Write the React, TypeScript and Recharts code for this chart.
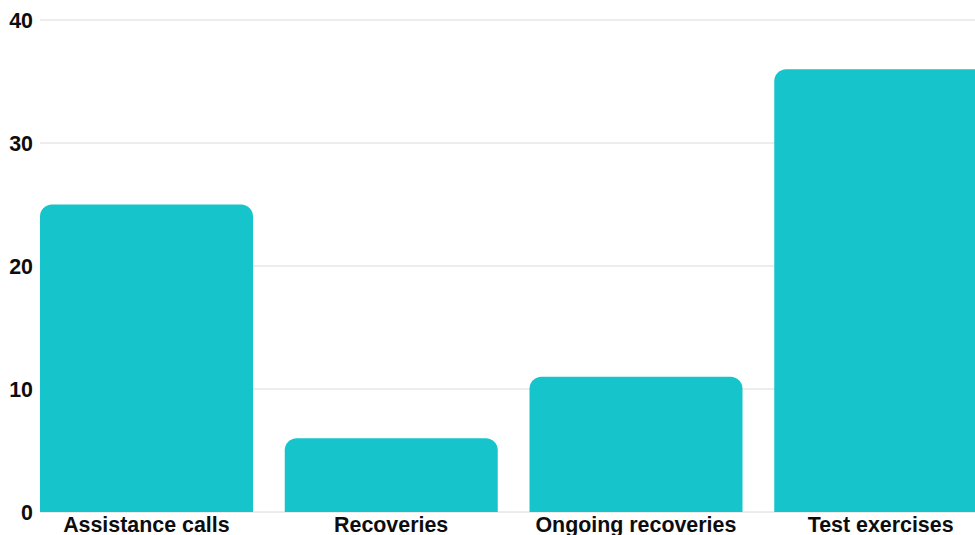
import React from "react";
import { BarChart, Bar, XAxis, YAxis, CartesianGrid } from "recharts";

const categories = ["Assistance calls", "Recoveries", "Ongoing recoveries", "Test exercises"];
const values = [25, 6, 11, 36];
const yTicks = [0, 10, 20, 30, 40];

const data = categories.map((name, i) => ({ name, value: values[i] }));

const tickStyle = {
  fontFamily: "'Liberation Sans', Arial, sans-serif",
  fontSize: 21.4,
  fontWeight: 700,
  fill: "#0d0d0d",
};

export default function App() {
  return (
    <div
      style={{
        position: "absolute",
        left: 0,
        top: 0,
        width: 975,
        height: 535,
        overflow: "hidden",
        background: "#ffffff",
      }}
    >
      <BarChart
        width={1003}
        height={542}
        data={data}
        margin={{ top: 20, right: 0, bottom: 0, left: 0 }}
        barCategoryGap={16}
      >
        <CartesianGrid vertical={false} stroke="#dadada" strokeWidth={1} />
        <XAxis
          dataKey="name"
          axisLine={false}
          tickLine={false}
          tickSize={5}
          tickMargin={0}
          height={30}
          padding={{ left: -16, right: 0 }}
          tick={tickStyle}
          interval={0}
        />
        <YAxis
          domain={[0, 40]}
          ticks={yTicks}
          axisLine={false}
          tickLine={false}
          tickSize={5}
          tickMargin={2}
          width={40}
          tick={tickStyle}
          interval={0}
        />
        <Bar
          dataKey="value"
          fill="#16C5CB"
          radius={[12, 12, 0, 0]}
          isAnimationActive={false}
        />
      </BarChart>
    </div>
  );
}
